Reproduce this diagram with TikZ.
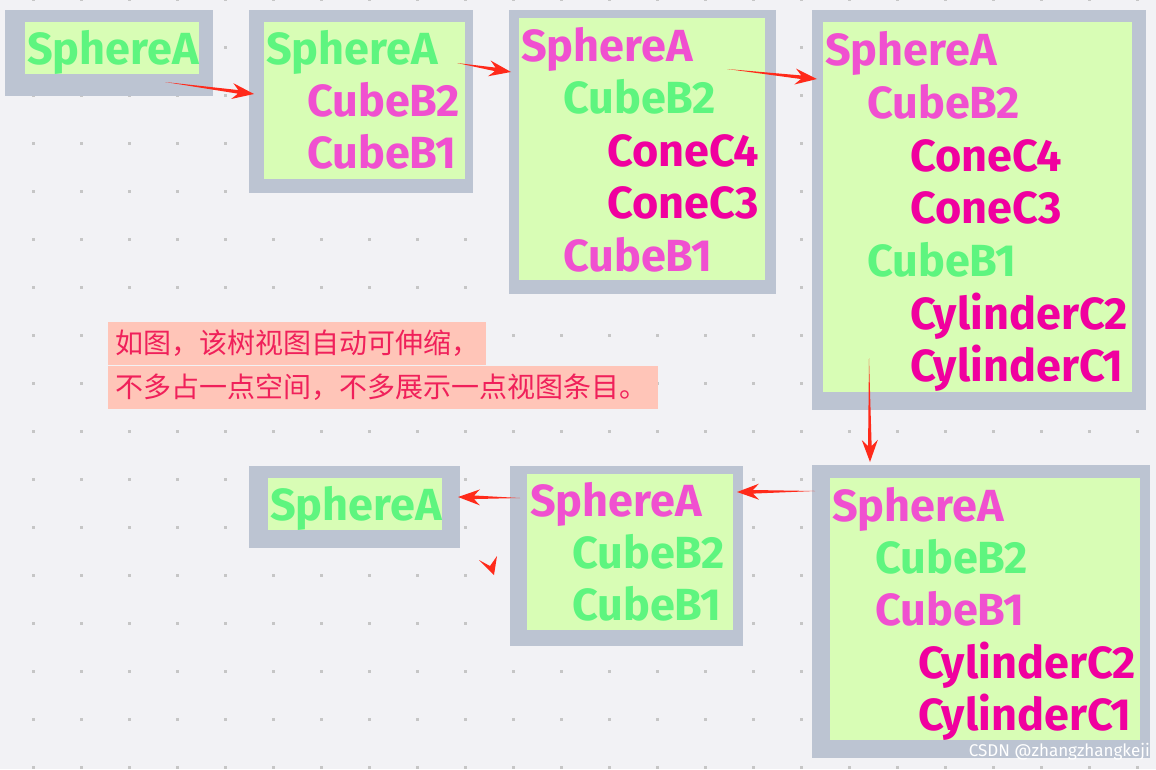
\documentclass[tikz,border=0pt]{standalone}
\usepackage{fontspec}
\setmainfont{Fira Sans}
\newfontfamily\cjk{Noto Sans CJK SC}
\usetikzlibrary{calc}
\definecolor{bg}{HTML}{F2F2F5}
\definecolor{frame}{HTML}{BCC4D2}
\definecolor{inner}{HTML}{D8FDB5}
\definecolor{cg}{HTML}{5EF57F}
\definecolor{cp}{HTML}{F050D0}
\definecolor{cm}{HTML}{F0009F}
\definecolor{hl}{HTML}{FFC5B8}
\definecolor{ht}{HTML}{F0205A}
\definecolor{arr}{HTML}{FF2A1A}
\tikzset{
  lbl/.style={anchor=base west,inner sep=0pt,font=\fontsize{45}{45}\selectfont\bfseries},
  g/.style={lbl,text=cg}, p/.style={lbl,text=cp}, m/.style={lbl,text=cm},
  outerbox/.style={fill=frame}, innerbox/.style={fill=inner},
  hlt/.style={anchor=west,fill=hl,text=ht,inner sep=0pt,font=\cjk\fontsize{28}{28}\selectfont}
}
\newcommand\tarrow[2]{%
  \fill[arr] (#1) -- ($($(#2)!16pt!(#1)$)!1.8pt!90:(#2)$) -- ($($(#2)!22pt!(#1)$)!8pt!90:(#2)$)
   -- (#2) -- ($($(#2)!22pt!(#1)$)!8pt!-90:(#2)$) -- ($($(#2)!16pt!(#1)$)!1.8pt!-90:(#2)$) -- cycle;}
\begin{document}
\begin{tikzpicture}[x=1pt,y=-1pt]
\fill[bg] (0,0) rectangle (1156,769);
\useasboundingbox (0,0) rectangle (1156,769);
\foreach \i in {0,...,23}{\foreach \j in {0,...,16}{
  \fill[gray!45] ({33+48*\i-1},{-1+48*\j-1}) rectangle ++(2.5,2.5);}}
% box1
\fill[outerbox] (5,10) rectangle (213,96);
\fill[innerbox] (25,22) rectangle (199,74);
\node[g] (b1a) at (27,64) {SphereA};
% box2
\fill[outerbox] (249,10) rectangle (473,193);
\fill[innerbox] (264,22) rectangle (465,179);
\node[g] (b2a) at (266,64) {SphereA};
\node[p] (b2b) at (307,116) {CubeB2};
\node[p] (b2c) at (307,168) {CubeB1};
% box3
\fill[outerbox] (509,10) rectangle (776,294);
\fill[innerbox] (519,18) rectangle (765,280);
\node[p] (b3a) at (521,61) {SphereA};
\node[g] (b3b) at (563,113) {CubeB2};
\node[m] (b3c) at (607,166) {ConeC4};
\node[m] (b3d) at (607,218) {ConeC3};
\node[p] (b3e) at (563,271) {CubeB1};
% box4
\fill[outerbox] (812,10) rectangle (1146,410);
\fill[innerbox] (823,22) rectangle (1132,392);
\node[p] (b4a) at (825,65) {SphereA};
\node[p] (b4b) at (867,118) {CubeB2};
\node[m] (b4c) at (910,171) {ConeC4};
\node[m] (b4d) at (910,223) {ConeC3};
\node[g] (b4e) at (867,276) {CubeB1};
\node[m] (b4f) at (910,329) {CylinderC2};
\node[m] (b4g) at (910,381) {CylinderC1};
% box5
\fill[outerbox] (812,465) rectangle (1150,758);
\fill[innerbox] (830,478) rectangle (1140,740);
\node[p] (b5a) at (832,521) {SphereA};
\node[g] (b5b) at (875,573) {CubeB2};
\node[p] (b5c) at (875,625) {CubeB1};
\node[m] (b5d) at (918,678) {CylinderC2};
\node[m] (b5e) at (918,730) {CylinderC1};
% box6
\fill[outerbox] (510,466) rectangle (743,646);
\fill[innerbox] (527,474) rectangle (733,630);
\node[p] (b6a) at (530,516) {SphereA};
\node[g] (b6b) at (572,568) {CubeB2};
\node[g] (b6c) at (572,620) {CubeB1};
% box7
\fill[outerbox] (249,466) rectangle (460,548);
\fill[innerbox] (268,478) rectangle (442,530);
\node[g] (b7a) at (270,520) {SphereA};
% text
\node[hlt,minimum height=43pt,text width=378pt,align=left] (t1) at (108,343.5) {\hspace{7pt}如图，该树视图自动可伸缩，};
\node[hlt,minimum height=43pt,text width=550pt,align=left] (t2) at (108,387.5) {\hspace{7pt}不多占一点空间，不多展示一点视图条目。};
% arrows
\coordinate (a1s) at (165,82); \coordinate (a1e) at (254,94);
\coordinate (a2s) at (457,63); \coordinate (a2e) at (511,72);
\coordinate (a3s) at (727,69); \coordinate (a3e) at (817,79);
\coordinate (a4s) at (869,358); \coordinate (a4e) at (870,462);
\coordinate (a5s) at (815,491); \coordinate (a5e) at (737,492);
\coordinate (a6s) at (520,498); \coordinate (a6e) at (458,497);
\foreach \a in {1,...,6}{\tarrow{a\a s}{a\a e}}
\fill[arr] (479,560) -- (490,566) -- (497,556) -- (494,575) -- cycle;
\node[anchor=south east,inner sep=2pt,text=white,font=\fontsize{17}{17}\selectfont] (wm) at (1152,762) {CSDN @zhangzhangkeji};
\end{tikzpicture}
\end{document}
